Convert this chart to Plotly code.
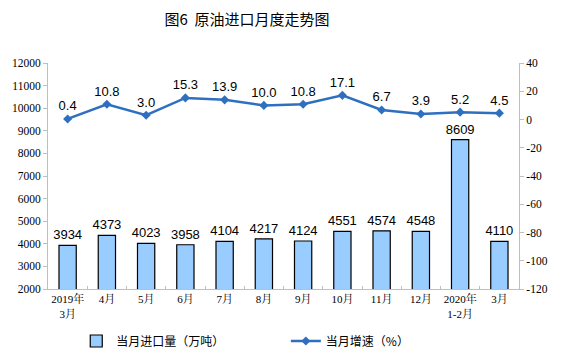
import plotly.graph_objects as go

categories = ["2019年<br>3月", "4月", "5月", "6月", "7月", "8月", "9月", "10月", "11月", "12月", "2020年<br>1-2月", "3月"]
import_volume = [3934, 4373, 4023, 3958, 4104, 4217, 4124, 4551, 4574, 4548, 8609, 4110]
growth = [0.4, 10.8, 3.0, 15.3, 13.9, 10.0, 10.8, 17.1, 6.7, 3.9, 5.2, 4.5]
left_ticks = list(range(2000, 12001, 1000))
right_ticks = list(range(-120, 41, 20))

fig = go.Figure()
fig.add_trace(go.Bar(
    x=categories, y=import_volume, name="当月进口量（万吨）",
    marker=dict(color="#99CCFF", line=dict(color="#000000", width=1.2)),
    text=[str(v) for v in import_volume], textposition="outside",
    constraintext="none",
    textfont=dict(family="Arial, Liberation Sans", size=13, color="#000"),
    cliponaxis=False, legend="legend",
))
fig.add_trace(go.Scatter(
    x=categories, y=growth, name="当月增速（%）", yaxis="y2",
    mode="lines+markers+text",
    line=dict(color="#2E6FC0", width=2.5),
    marker=dict(symbol="diamond", size=7, color="#2E6FC0"),
    text=[f"{v:.1f}" for v in growth], textposition="top center",
    textfont=dict(family="Arial, Liberation Sans", size=13, color="#000"),
    cliponaxis=False, legend="legend2",
))

legend_font = dict(family="Noto Sans CJK SC", size=12, color="#000")
fig.update_layout(
    width=561, height=357,
    margin=dict(l=40, r=50, t=55, b=76, autoexpand=False),
    paper_bgcolor="white", plot_bgcolor="white",
    title=dict(text="图6  原油进口月度走势图", x=0.426, xanchor="center", y=0.966, yanchor="middle",
               font=dict(family="Noto Sans CJK SC", size=15, color="#000")),
    bargap=0.56,
    showlegend=True,
    legend=dict(orientation="h", x=0.06, xanchor="left", y=-0.23, yanchor="middle",
                font=legend_font, bgcolor="rgba(0,0,0,0)"),
    legend2=dict(orientation="h", x=0.505, xanchor="left", y=-0.23, yanchor="middle",
                 font=legend_font, bgcolor="rgba(0,0,0,0)"),
    xaxis=dict(
        range=[-0.5, len(categories) - 0.5],
        showline=True, linecolor="#bfbfbf", linewidth=1,
        ticks="inside", ticklen=3, tickcolor="#bfbfbf", tickson="boundaries",
        tickangle=0, automargin=False,
        tickfont=dict(family="Liberation Serif, Noto Serif CJK SC, Noto Sans CJK SC", size=11, color="#000"),
        showgrid=False,
    ),
    yaxis=dict(
        range=[2000, 12000], tickvals=left_ticks, ticktext=[str(v) for v in left_ticks],
        showline=True, linecolor="#bfbfbf", linewidth=1,
        ticks="outside", ticklen=4, tickcolor="#bfbfbf", automargin=False,
        tickfont=dict(family="Liberation Serif", size=11.5, color="#000"),
        showgrid=False, zeroline=False,
    ),
    yaxis2=dict(
        range=[-120, 40], tickvals=right_ticks, ticktext=[str(v) for v in right_ticks],
        overlaying="y", side="right",
        showline=True, linecolor="#bfbfbf", linewidth=1,
        ticks="outside", ticklen=4, tickcolor="#bfbfbf", automargin=False,
        tickfont=dict(family="Liberation Serif", size=11.5, color="#000"),
        showgrid=False, zeroline=False,
    ),
)

fig.write_html("out.html")
